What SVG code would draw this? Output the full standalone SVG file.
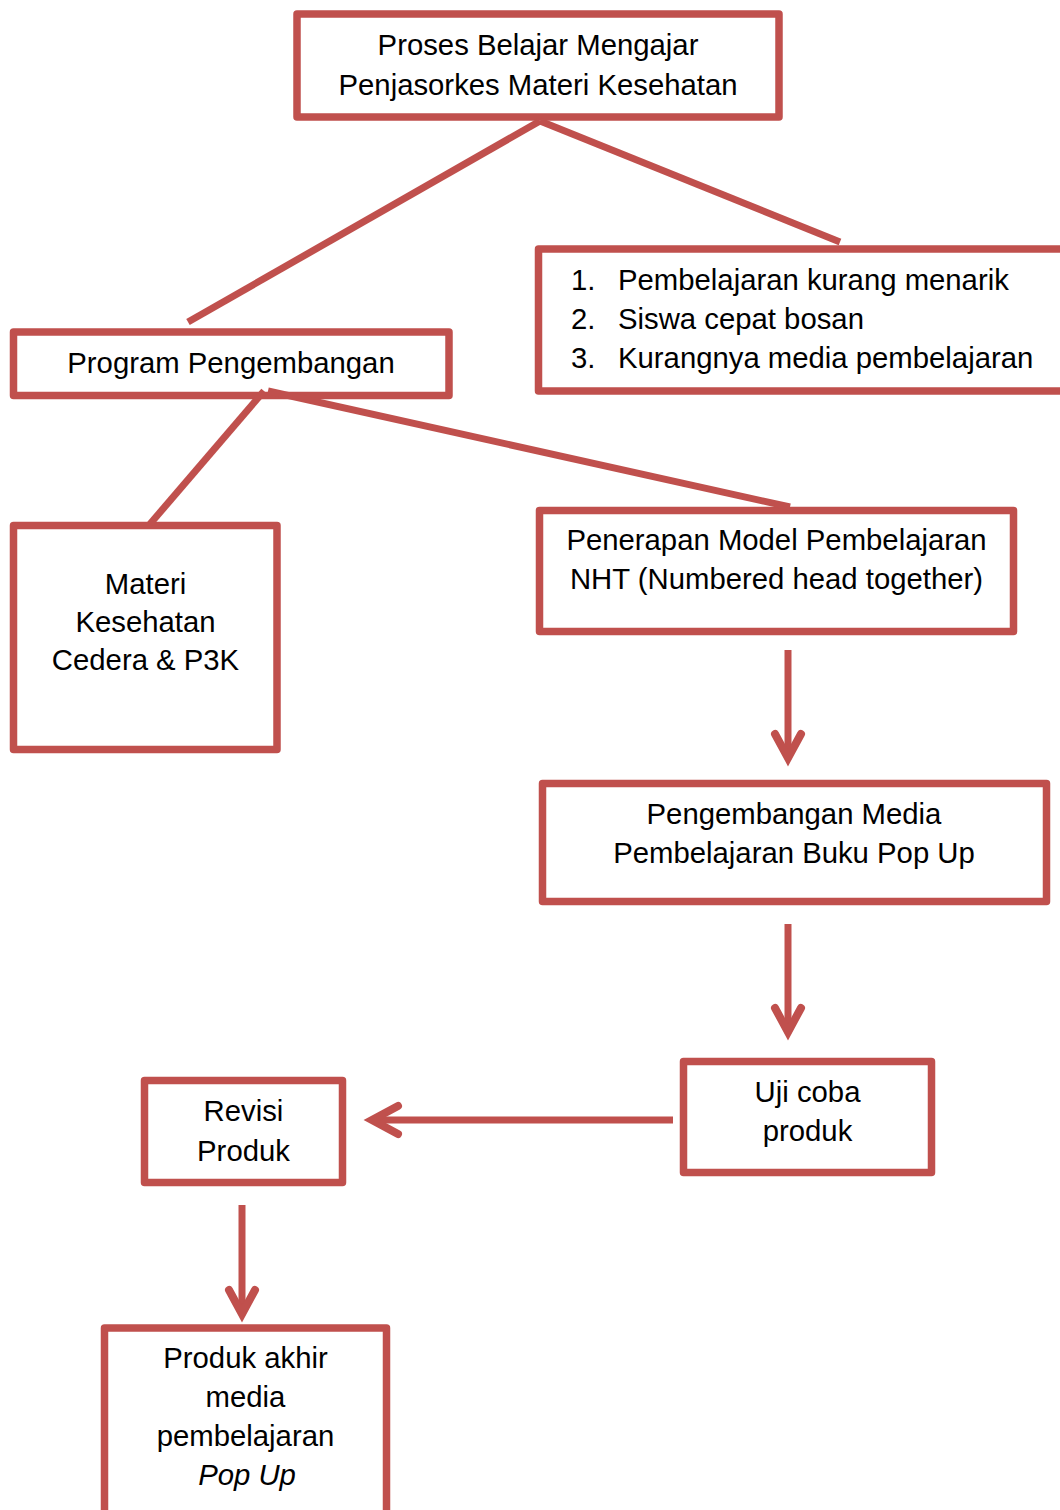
<svg xmlns="http://www.w3.org/2000/svg" width="1060" height="1510" viewBox="0 0 1060 1510">
<style>
.box{fill:#ffffff;stroke:#C0504D;stroke-width:7.5;stroke-linejoin:round}
.ln{stroke:#C0504D;stroke-width:7;fill:none}
.head{stroke:#C0504D;stroke-width:8;fill:none;stroke-linecap:round;stroke-linejoin:miter}
text{font-family:"Liberation Sans",Arial,sans-serif;font-size:29.3px;fill:#000000}
.c{text-anchor:middle}
</style>
<rect width="1060" height="1510" fill="#ffffff"/>
<g id="n1">
<rect class="box" x="297" y="14" width="482" height="103"/>
<text class="c" x="538" y="55">Proses Belajar Mengajar</text>
<text class="c" x="538" y="95">Penjasorkes Materi Kesehatan</text>
</g>
<g id="n2">
<rect class="box" x="538.5" y="249" width="540" height="142"/>
<text x="571" y="290">1.</text><text x="618" y="290">Pembelajaran kurang menarik</text>
<text x="571" y="329">2.</text><text x="618" y="329">Siswa cepat bosan</text>
<text x="571" y="368">3.</text><text x="618" y="368">Kurangnya media pembelajaran</text>
</g>
<g id="n3">
<rect class="box" x="13.5" y="332" width="435.5" height="63.5"/>
<text class="c" x="231" y="373">Program Pengembangan</text>
</g>
<g id="n4">
<rect class="box" x="13.5" y="525.5" width="263.5" height="224"/>
<text class="c" x="145.5" y="594">Materi</text>
<text class="c" x="145.5" y="632">Kesehatan</text>
<text class="c" x="145.5" y="670">Cedera &amp; P3K</text>
</g>
<g id="n5">
<rect class="box" x="539.5" y="510.5" width="474" height="121"/>
<text class="c" x="776.5" y="550">Penerapan Model Pembelajaran</text>
<text class="c" x="776.5" y="589">NHT (Numbered head together)</text>
</g>
<g id="n6">
<rect class="box" x="542.5" y="783.5" width="504" height="118"/>
<text class="c" x="794" y="824">Pengembangan Media</text>
<text class="c" x="794" y="863">Pembelajaran Buku Pop Up</text>
</g>
<g id="n7">
<rect class="box" x="683.5" y="1061.5" width="248" height="111"/>
<text class="c" x="807.5" y="1102">Uji coba</text>
<text class="c" x="807.5" y="1141">produk</text>
</g>
<g id="n8">
<rect class="box" x="144.5" y="1080.5" width="198" height="102"/>
<text class="c" x="243.5" y="1121">Revisi</text>
<text class="c" x="243.5" y="1161">Produk</text>
</g>
<g id="n9">
<rect class="box" x="104.5" y="1328" width="282" height="220"/>
<text class="c" x="245.5" y="1368">Produk akhir</text>
<text class="c" x="245.5" y="1407">media</text>
<text class="c" x="245.5" y="1446">pembelajaran</text>
<text class="c" x="247" y="1485" font-style="italic">Pop Up</text>
</g>
<g id="connectors">
<line class="ln" x1="540" y1="121" x2="188" y2="322"/>
<line class="ln" x1="540" y1="121" x2="840" y2="242"/>
<line class="ln" x1="264" y1="391" x2="150" y2="524"/>
<line class="ln" x1="268" y1="391" x2="790" y2="507"/>
<line class="ln" x1="788" y1="650" x2="788" y2="756"/>
<path class="head" d="M775,734 L788,758 L801,734"/>
<line class="ln" x1="788" y1="924" x2="788" y2="1030"/>
<path class="head" d="M775,1008 L788,1032 L801,1008"/>
<line class="ln" x1="673" y1="1120" x2="374" y2="1120"/>
<path class="head" d="M398,1106 L372,1120 L398,1134"/>
<line class="ln" x1="242" y1="1205" x2="242" y2="1312"/>
<path class="head" d="M229,1290 L242,1314 L255,1290"/>
</g>
</svg>
